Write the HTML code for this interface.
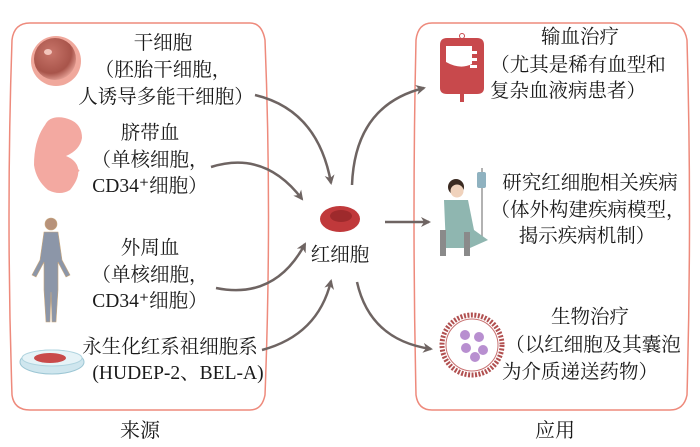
<!DOCTYPE html>
<html><head><meta charset="utf-8"><style>
html,body{margin:0;padding:0;background:#fff;}
svg{display:block;}
text{font-family:"Liberation Serif","Noto Serif CJK SC","Noto Sans CJK SC",serif;font-size:19.5px;fill:#1a1a1a;}
</style></head><body>
<svg width="700" height="447" viewBox="0 0 700 447" xmlns="http://www.w3.org/2000/svg">
<defs>
<marker id="ah" markerWidth="10" markerHeight="10" refX="8" refY="5" orient="auto" markerUnits="userSpaceOnUse">
<path d="M0,0 L10,5 L0,10 L3,5 Z" fill="#6e6462"/>
</marker>
<radialGradient id="cell" cx="0.4" cy="0.35" r="0.7"><stop offset="0" stop-color="#c8756a"/><stop offset="0.7" stop-color="#a8544a"/><stop offset="1" stop-color="#e8a59a"/></radialGradient>
</defs>
<path d="M30,23 L250,23 Q262,23 265,40 Q272,215 265,395 Q262,410 250,410 L30,410 Q14,410 12,395 Q6,215 12,40 Q14,23 30,23 Z" fill="none" stroke="#ee8a7c" stroke-width="1.5"/>
<path d="M432,23 L670,23 Q684,23 687,40 Q692,215 687,395 Q684,410 670,410 L432,410 Q418,410 416,395 Q412,215 416,40 Q418,23 432,23 Z" fill="none" stroke="#ee8a7c" stroke-width="1.5"/>
<circle cx="56" cy="61" r="25" fill="#f0a89c"/>
<circle cx="55" cy="59" r="21" fill="url(#cell)"/>
<ellipse cx="48" cy="52" rx="4" ry="3" fill="#f3c4bb"/>
<path d="M45,125 Q50,115 65,118 Q82,122 82,138 Q80,150 66,156 Q76,160 78,168 Q80,178 70,190 Q60,196 48,190 Q36,180 34,165 Q34,140 45,125 Z" fill="#f3a9a1"/>
<path d="M64,160 Q74,166 78,172" stroke="#f3a9a1" stroke-width="4" fill="none"/>
<g fill="#8c96a8" stroke="#c9a77c" stroke-width="0.6">
<circle cx="51" cy="224" r="6" fill="#b7927a"/>
<path d="M44,232 L58,232 L62,260 L70,275 L66,277 L58,262 L58,290 L56,322 L52,322 L51,292 L50,322 L46,322 L44,290 L44,262 L36,277 L32,275 L40,260 Z"/>
</g>
<ellipse cx="52" cy="362" rx="32" ry="12" fill="#cfe6ee" stroke="#9cc6d4"/>
<ellipse cx="52" cy="358" rx="30" ry="8" fill="#e6f3f7" stroke="#b0d4df"/>
<ellipse cx="50" cy="358" rx="16" ry="5" fill="#c94a4a"/>
<g text-anchor="middle">
<text x="163" y="49">干细胞</text>
<text x="163" y="76">（胚胎干细胞，</text>
<text x="166" y="103">人诱导多能干细胞）</text>
<text x="150" y="139">脐带血</text>
<text x="150" y="166">（单核细胞，</text>
<text x="150" y="192">CD34⁺细胞）</text>
<text x="150" y="254">外周血</text>
<text x="150" y="281">（单核细胞，</text>
<text x="150" y="307">CD34⁺细胞）</text>
<text x="170" y="353">永生化红系祖细胞系</text>
<text x="178" y="379">(HUDEP-2、BEL-A)</text>
<text x="140" y="437" style="font-size:20px">来源</text>
<text x="555" y="437" style="font-size:20px">应用</text>
<text x="340" y="261">红细胞</text>
<text x="580" y="43">输血治疗</text>
<text x="578" y="71">（尤其是稀有血型和</text>
<text x="568" y="97">复杂血液病患者）</text>
<text x="590" y="189">研究红细胞相关疾病</text>
<text x="588" y="216">（体外构建疾病模型，</text>
<text x="587" y="242">揭示疾病机制）</text>
<text x="590" y="323">生物治疗</text>
<text x="593" y="351">（以红细胞及其囊泡</text>
<text x="580" y="378">为介质递送药物）</text>
</g>
<ellipse cx="340" cy="219" rx="20" ry="13" fill="#c0393b"/>
<ellipse cx="341" cy="216" rx="11" ry="6" fill="#9e2a2c"/>
<path d="M447,38 L477,38 Q484,38 484,45 L484,88 Q484,94 477,94 L447,94 Q440,94 440,88 L440,45 Q440,38 447,38 Z" fill="#c8494c"/>
<path d="M446,62 Q460,70 472,64 L472,46 L446,46 Z" fill="#fff"/>
<rect x="470" y="51" width="7" height="3" fill="#fff"/><rect x="470" y="58" width="7" height="3" fill="#fff"/><rect x="470" y="65" width="7" height="3" fill="#fff"/>
<rect x="460" y="94" width="4" height="8" fill="#c8494c"/>
<circle cx="462" cy="36" r="2.5" fill="none" stroke="#c8494c"/>
<line x1="482" y1="168" x2="482" y2="240" stroke="#999" stroke-width="1.5"/>
<rect x="477" y="172" width="9" height="16" rx="2" fill="#8fb2c0"/>
<circle cx="456" cy="187" r="8" fill="#3b2b22"/>
<circle cx="457" cy="191" r="6.5" fill="#f0d2bc"/>
<path d="M444,200 L468,200 L474,230 L488,240 L470,248 L446,248 Z" fill="#8fb6b0"/>
<rect x="440" y="230" width="6" height="26" fill="#8a8a8a"/><rect x="464" y="232" width="6" height="24" fill="#8a8a8a"/>
<circle cx="472" cy="345" r="30" fill="none" stroke="#b15050" stroke-width="5" stroke-dasharray="2 1.5"/>
<circle cx="472" cy="345" r="26" fill="#fff" stroke="#c87070" stroke-width="1"/>
<g fill="#b88fd0"><circle cx="465" cy="335" r="5"/><circle cx="479" cy="337" r="5"/><circle cx="466" cy="348" r="5"/><circle cx="483" cy="350" r="5"/><circle cx="475" cy="357" r="5"/></g>
<g fill="none" stroke="#6e6462" stroke-width="2.5" marker-end="url(#ah)">
<path d="M255,95 Q318,110 331,183"/>
<path d="M211,167 Q265,150 302,199"/>
<path d="M216,288 Q275,300 305,244"/>
<path d="M262,350 Q318,335 331,281"/>
<path d="M352,185 Q355,105 424,88"/>
<path d="M385,222 L429,222"/>
<path d="M357,282 Q370,340 431,349"/>
</g>
</svg>
</body></html>
